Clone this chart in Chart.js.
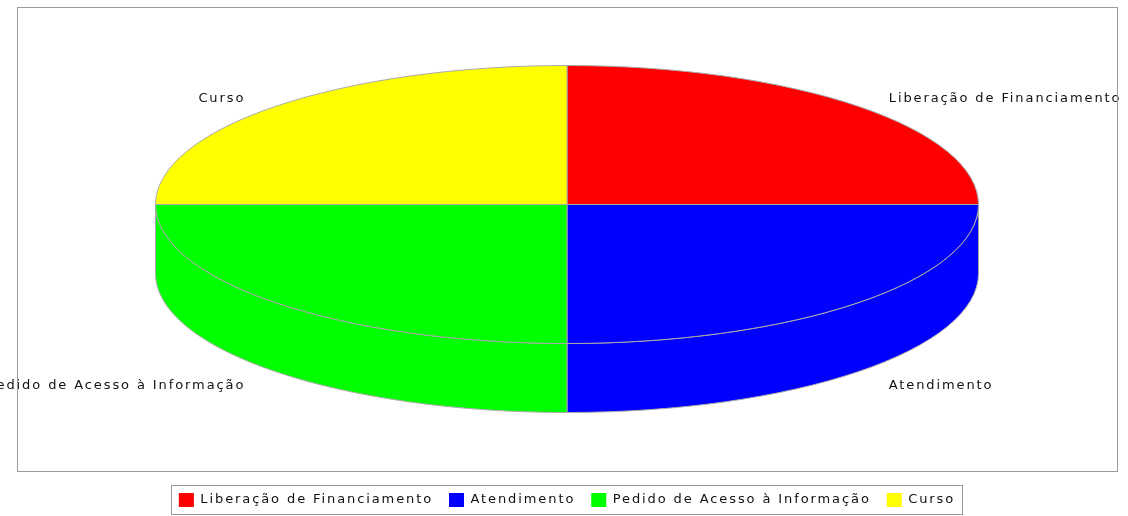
<!DOCTYPE html>
<html>
<head>
<meta charset="utf-8">
<script src="https://cdn.jsdelivr.net/npm/chart.js@4/dist/chart.umd.min.js"></script>
<style>
  body { margin: 0; background: #fff; }
  canvas { display: block; }
</style>
</head>
<body>
<canvas id="pieChart" width="1128" height="516"></canvas>
<script>
const categories = ['Liberação de Financiamento', 'Atendimento', 'Pedido de Acesso à Informação', 'Curso'];
const values = [1, 1, 1, 1];
const sliceColors = ['#ff0000', '#0000ff', '#00ff00', '#ffff00'];

const FONT = "13px 'DejaVu Sans', sans-serif";
const OUTLINE = '#aaaaaa';

// the plot box sits a bit above the legend block
function plotRect(chart) {
    const a = chart.chartArea;
    return { left: a.left, top: a.top, right: a.right, bottom: a.bottom - 6 };
}

const spacingPlugin = {
    id: 'spacing',
    beforeUpdate(chart) { chart.ctx.letterSpacing = '1.9px'; },
    beforeDraw(chart) { chart.ctx.letterSpacing = '1.9px'; }
};

// 3D-ish pie: top ellipse + front extrusion, drawn from the arc elements' angles
const pie3dPlugin = {
    id: 'pie3d',
    beforeDatasetsDraw(chart) {
        const ctx = chart.ctx;
        const meta = chart.getDatasetMeta(0);
        const p = plotRect(chart);
        const cx = (p.left + p.right) / 2;
        const rx = 411.5, ry = 139, depth = 69;
        const cy = (p.top + p.bottom) / 2 - depth / 2;

        ctx.save();
        ctx.lineWidth = 1;
        ctx.strokeStyle = OUTLINE;

        // sides first
        meta.data.forEach((arc, i) => {
            const s = Math.max(arc.startAngle, 0);
            const e = Math.min(arc.endAngle, Math.PI);
            if (e <= s) return;
            ctx.beginPath();
            ctx.ellipse(cx, cy, rx, ry, 0, s, e, false);
            ctx.lineTo(cx + rx * Math.cos(e), cy + depth + ry * Math.sin(e));
            ctx.ellipse(cx, cy + depth, rx, ry, 0, e, s, true);
            ctx.closePath();
            ctx.fillStyle = sliceColors[i];
            ctx.fill();
            ctx.stroke();
        });

        // top faces
        meta.data.forEach((arc, i) => {
            ctx.beginPath();
            ctx.moveTo(cx, cy);
            ctx.ellipse(cx, cy, rx, ry, 0, arc.startAngle, arc.endAngle, false);
            ctx.closePath();
            ctx.fillStyle = sliceColors[i];
            ctx.fill();
            ctx.stroke();
        });

        // labels
        ctx.font = FONT;
        ctx.fillStyle = '#111111';
        ctx.textBaseline = 'middle';
        const labelY = (p.top + p.bottom) / 2 + 3;
        meta.data.forEach((arc, i) => {
            const mid = (arc.startAngle + arc.endAngle) / 2;
            const c = Math.cos(mid), sn = Math.sin(mid);
            ctx.textAlign = c >= 0 ? 'left' : 'right';
            ctx.fillText(categories[i], cx + c * 455, labelY + sn * 203);
        });

        // plot border over the labels
        ctx.strokeStyle = '#9a9a9a';
        ctx.strokeRect(p.left + 0.5, p.top + 0.5, p.right - p.left, p.bottom - p.top);
        ctx.restore();
        return false;
    },
    afterDraw(chart) {
        const boxes = chart.legend.legendHitBoxes;
        if (!boxes || !boxes.length) return;
        const ctx = chart.ctx;
        const left = Math.min(...boxes.map(b => b.left));
        const right = Math.max(...boxes.map(b => b.left + b.width));
        const top = boxes[0].top;
        const h = boxes[0].height;
        ctx.save();
        ctx.strokeStyle = '#9a9a9a';
        ctx.lineWidth = 1;
        ctx.strokeRect(Math.round(left - 8) + 0.5, Math.round(top - 8) + 0.5,
            Math.round(right - left + 15), Math.round(h + 15));
        ctx.restore();
    }
};

new Chart(document.getElementById('pieChart'), {
    type: 'pie',
    data: {
        labels: categories,
        datasets: [{
            data: values,
            backgroundColor: sliceColors,
            borderWidth: 0
        }]
    },
    options: {
        responsive: false,
        animation: false,
        layout: { padding: { left: 17, right: 11, top: 7, bottom: -1 } },
        plugins: {
            legend: {
                position: 'bottom',
                labels: {
                    boxWidth: 15,
                    boxHeight: 14,
                    padding: 16,
                    color: '#111111',
                    font: { family: "'DejaVu Sans', sans-serif", size: 13 }
                }
            },
            tooltip: { enabled: false }
        }
    },
    plugins: [spacingPlugin, pie3dPlugin]
});
</script>
</body>
</html>
